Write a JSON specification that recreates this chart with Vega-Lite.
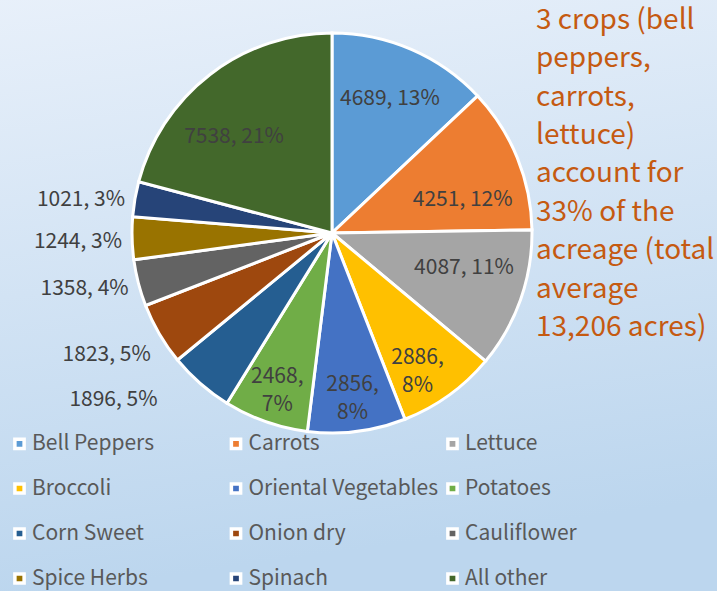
{
  "$schema": "https://vega.github.io/schema/vega-lite/v6.json",
  "width": 770,
  "height": 716,
  "autosize": "none",
  "padding": {"left": -53, "top": -125, "right": 0, "bottom": 0},
  "background": "#d3e3f3",
  "config": {
    "view": {"stroke": null},
    "font": "Noto Sans CJK JP"
  },
  "title": {
    "text": ["3 crops (bell", "peppers,", "carrots,", "lettuce)", "account for", "33% of the", "acreage (total", "average", "13,206 acres)"],
    "orient": "top",
    "anchor": "start",
    "frame": "group",
    "align": "left",
    "baseline": "top",
    "offset": -467,
    "dx": 589,
    "font": "Noto Sans CJK JP",
    "fontSize": 28,
    "fontWeight": "normal",
    "color": "#C55A11",
    "lineHeight": 38.4
  },
  "data": {
    "values": [
      {"i": 1, "crop": "Bell Peppers", "acres": 4689, "label": "4689, 13%"},
      {"i": 2, "crop": "Carrots", "acres": 4251, "label": "4251, 12%"},
      {"i": 3, "crop": "Lettuce", "acres": 4087, "label": "4087, 11%"},
      {"i": 4, "crop": "Broccoli", "acres": 2886, "label": "2886,\n8%"},
      {"i": 5, "crop": "Oriental Vegetables", "acres": 2856, "label": "2856,\n8%"},
      {"i": 6, "crop": "Potatoes", "acres": 2468, "label": "2468,\n7%"},
      {"i": 7, "crop": "Corn Sweet", "acres": 1896, "label": "1896, 5%"},
      {"i": 8, "crop": "Onion dry", "acres": 1823, "label": "1823, 5%"},
      {"i": 9, "crop": "Cauliflower", "acres": 1358, "label": "1358, 4%"},
      {"i": 10, "crop": "Spice Herbs", "acres": 1244, "label": "1244, 3%"},
      {"i": 11, "crop": "Spinach", "acres": 1021, "label": "1021, 3%"},
      {"i": 12, "crop": "All other", "acres": 7538, "label": "7538, 21%"}
    ]
  },
  "layer": [
    {
      "data": {"values": [{"bg": "background"}]},
      "mark": {
        "type": "rect",
        "fill": {
          "gradient": "linear",
          "x1": 0, "y1": 0, "x2": 0.15, "y2": 1,
          "stops": [
            {"offset": 0, "color": "#ecf3fb"},
            {"offset": 0.175, "color": "#e8f0fa"},
            {"offset": 1, "color": "#bcd6ee"}
          ]
        }
      },
      "encoding": {}
    },
    {
      "mark": {"type": "arc", "radius": 200, "stroke": "white", "strokeWidth": 3},
      "encoding": {
        "theta": {"field": "acres", "type": "quantitative", "stack": true},
        "order": {"field": "i", "type": "quantitative"},
        "color": {
          "field": "crop",
          "type": "nominal",
          "scale": {
            "domain": ["Bell Peppers", "Carrots", "Lettuce", "Broccoli", "Oriental Vegetables", "Potatoes", "Corn Sweet", "Onion dry", "Cauliflower", "Spice Herbs", "Spinach", "All other"],
            "range": ["#5B9BD5", "#ED7D31", "#A5A5A5", "#FFC000", "#4472C4", "#70AD47", "#255E91", "#9E480E", "#636363", "#997300", "#264478", "#43682B"]
          },
          "legend": {
            "orient": "none",
            "direction": "horizontal",
            "legendX": 62,
            "legendY": 558,
            "columns": 3,
            "title": null,
            "padding": 0,
            "gridAlign": "all",
            "columnPadding": 1.5,
            "rowPadding": 20,
            "symbolType": "square",
            "symbolSize": 85,
            "symbolStrokeColor": "white",
            "symbolStrokeWidth": 3.5,
            "labelFont": "Noto Sans CJK JP",
            "labelFontSize": 21,
            "labelColor": "#595959",
            "labelOffset": 2,
            "labelLimit": 300
          }
        }
      }
    },
    {
      "mark": {"type": "text", "radius": 146, "fontSize": 21, "color": "#404040", "baseline": "middle"},
      "encoding": {
        "theta": {"field": "acres", "type": "quantitative", "stack": true},
        "order": {"field": "i", "type": "quantitative"},
        "detail": {"field": "crop"},
        "text": {"condition": {"test": "datum.crop === 'Bell Peppers'", "field": "label"}, "value": ""}
      }
    },
    {
      "mark": {"type": "text", "radius": 141, "dy": 20, "fontSize": 21, "color": "#404040", "baseline": "middle"},
      "encoding": {
        "theta": {"field": "acres", "type": "quantitative", "stack": true},
        "order": {"field": "i", "type": "quantitative"},
        "detail": {"field": "crop"},
        "text": {"condition": {"test": "datum.crop === 'Carrots'", "field": "label"}, "value": ""}
      }
    },
    {
      "mark": {"type": "text", "radius": 140, "dy": -12, "fontSize": 21, "color": "#404040", "baseline": "middle"},
      "encoding": {
        "theta": {"field": "acres", "type": "quantitative", "stack": true},
        "order": {"field": "i", "type": "quantitative"},
        "detail": {"field": "crop"},
        "text": {"condition": {"test": "datum.crop === 'Lettuce'", "field": "label"}, "value": ""}
      }
    },
    {
      "mark": {"type": "text", "radius": 141, "dx": -12, "dy": 16, "fontSize": 21, "color": "#404040", "baseline": "middle"},
      "encoding": {
        "theta": {"field": "acres", "type": "quantitative", "stack": true},
        "order": {"field": "i", "type": "quantitative"},
        "detail": {"field": "crop"},
        "text": {"condition": {"test": "datum.crop === 'All other'", "field": "label"}, "value": ""}
      }
    },
    {
      "mark": {"type": "text", "radius": 160, "dx": -8, "dy": -5, "fontSize": 21, "color": "#404040", "baseline": "middle", "lineBreak": "\n", "lineHeight": 28},
      "encoding": {
        "theta": {"field": "acres", "type": "quantitative", "stack": true},
        "order": {"field": "i", "type": "quantitative"},
        "detail": {"field": "crop"},
        "text": {"condition": {"test": "datum.crop === 'Broccoli'", "field": "label"}, "value": ""}
      }
    },
    {
      "mark": {"type": "text", "radius": 165, "dy": -12, "fontSize": 21, "color": "#404040", "baseline": "middle", "lineBreak": "\n", "lineHeight": 28},
      "encoding": {
        "theta": {"field": "acres", "type": "quantitative", "stack": true},
        "order": {"field": "i", "type": "quantitative"},
        "detail": {"field": "crop"},
        "text": {"condition": {"test": "datum.crop === 'Oriental Vegetables' || datum.crop === 'Potatoes'", "field": "label"}, "value": ""}
      }
    },
    {
      "mark": {"type": "text", "radius": 210, "dy": 3, "align": "right", "fontSize": 21, "color": "#404040", "baseline": "middle"},
      "encoding": {
        "theta": {"field": "acres", "type": "quantitative", "stack": true},
        "order": {"field": "i", "type": "quantitative"},
        "detail": {"field": "crop"},
        "text": {"condition": {"test": "datum.crop === 'Spinach' || datum.crop === 'Spice Herbs' || datum.crop === 'Cauliflower'", "field": "label"}, "value": ""}
      }
    },
    {
      "mark": {"type": "text", "radius": 210, "dy": 16, "align": "right", "fontSize": 21, "color": "#404040", "baseline": "middle"},
      "encoding": {
        "theta": {"field": "acres", "type": "quantitative", "stack": true},
        "order": {"field": "i", "type": "quantitative"},
        "detail": {"field": "crop"},
        "text": {"condition": {"test": "datum.crop === 'Onion dry'", "field": "label"}, "value": ""}
      }
    },
    {
      "mark": {"type": "text", "radius": 215, "dx": -33, "dy": 5, "align": "right", "fontSize": 21, "color": "#404040", "baseline": "middle"},
      "encoding": {
        "theta": {"field": "acres", "type": "quantitative", "stack": true},
        "order": {"field": "i", "type": "quantitative"},
        "detail": {"field": "crop"},
        "text": {"condition": {"test": "datum.crop === 'Corn Sweet'", "field": "label"}, "value": ""}
      }
    }
  ]
}
